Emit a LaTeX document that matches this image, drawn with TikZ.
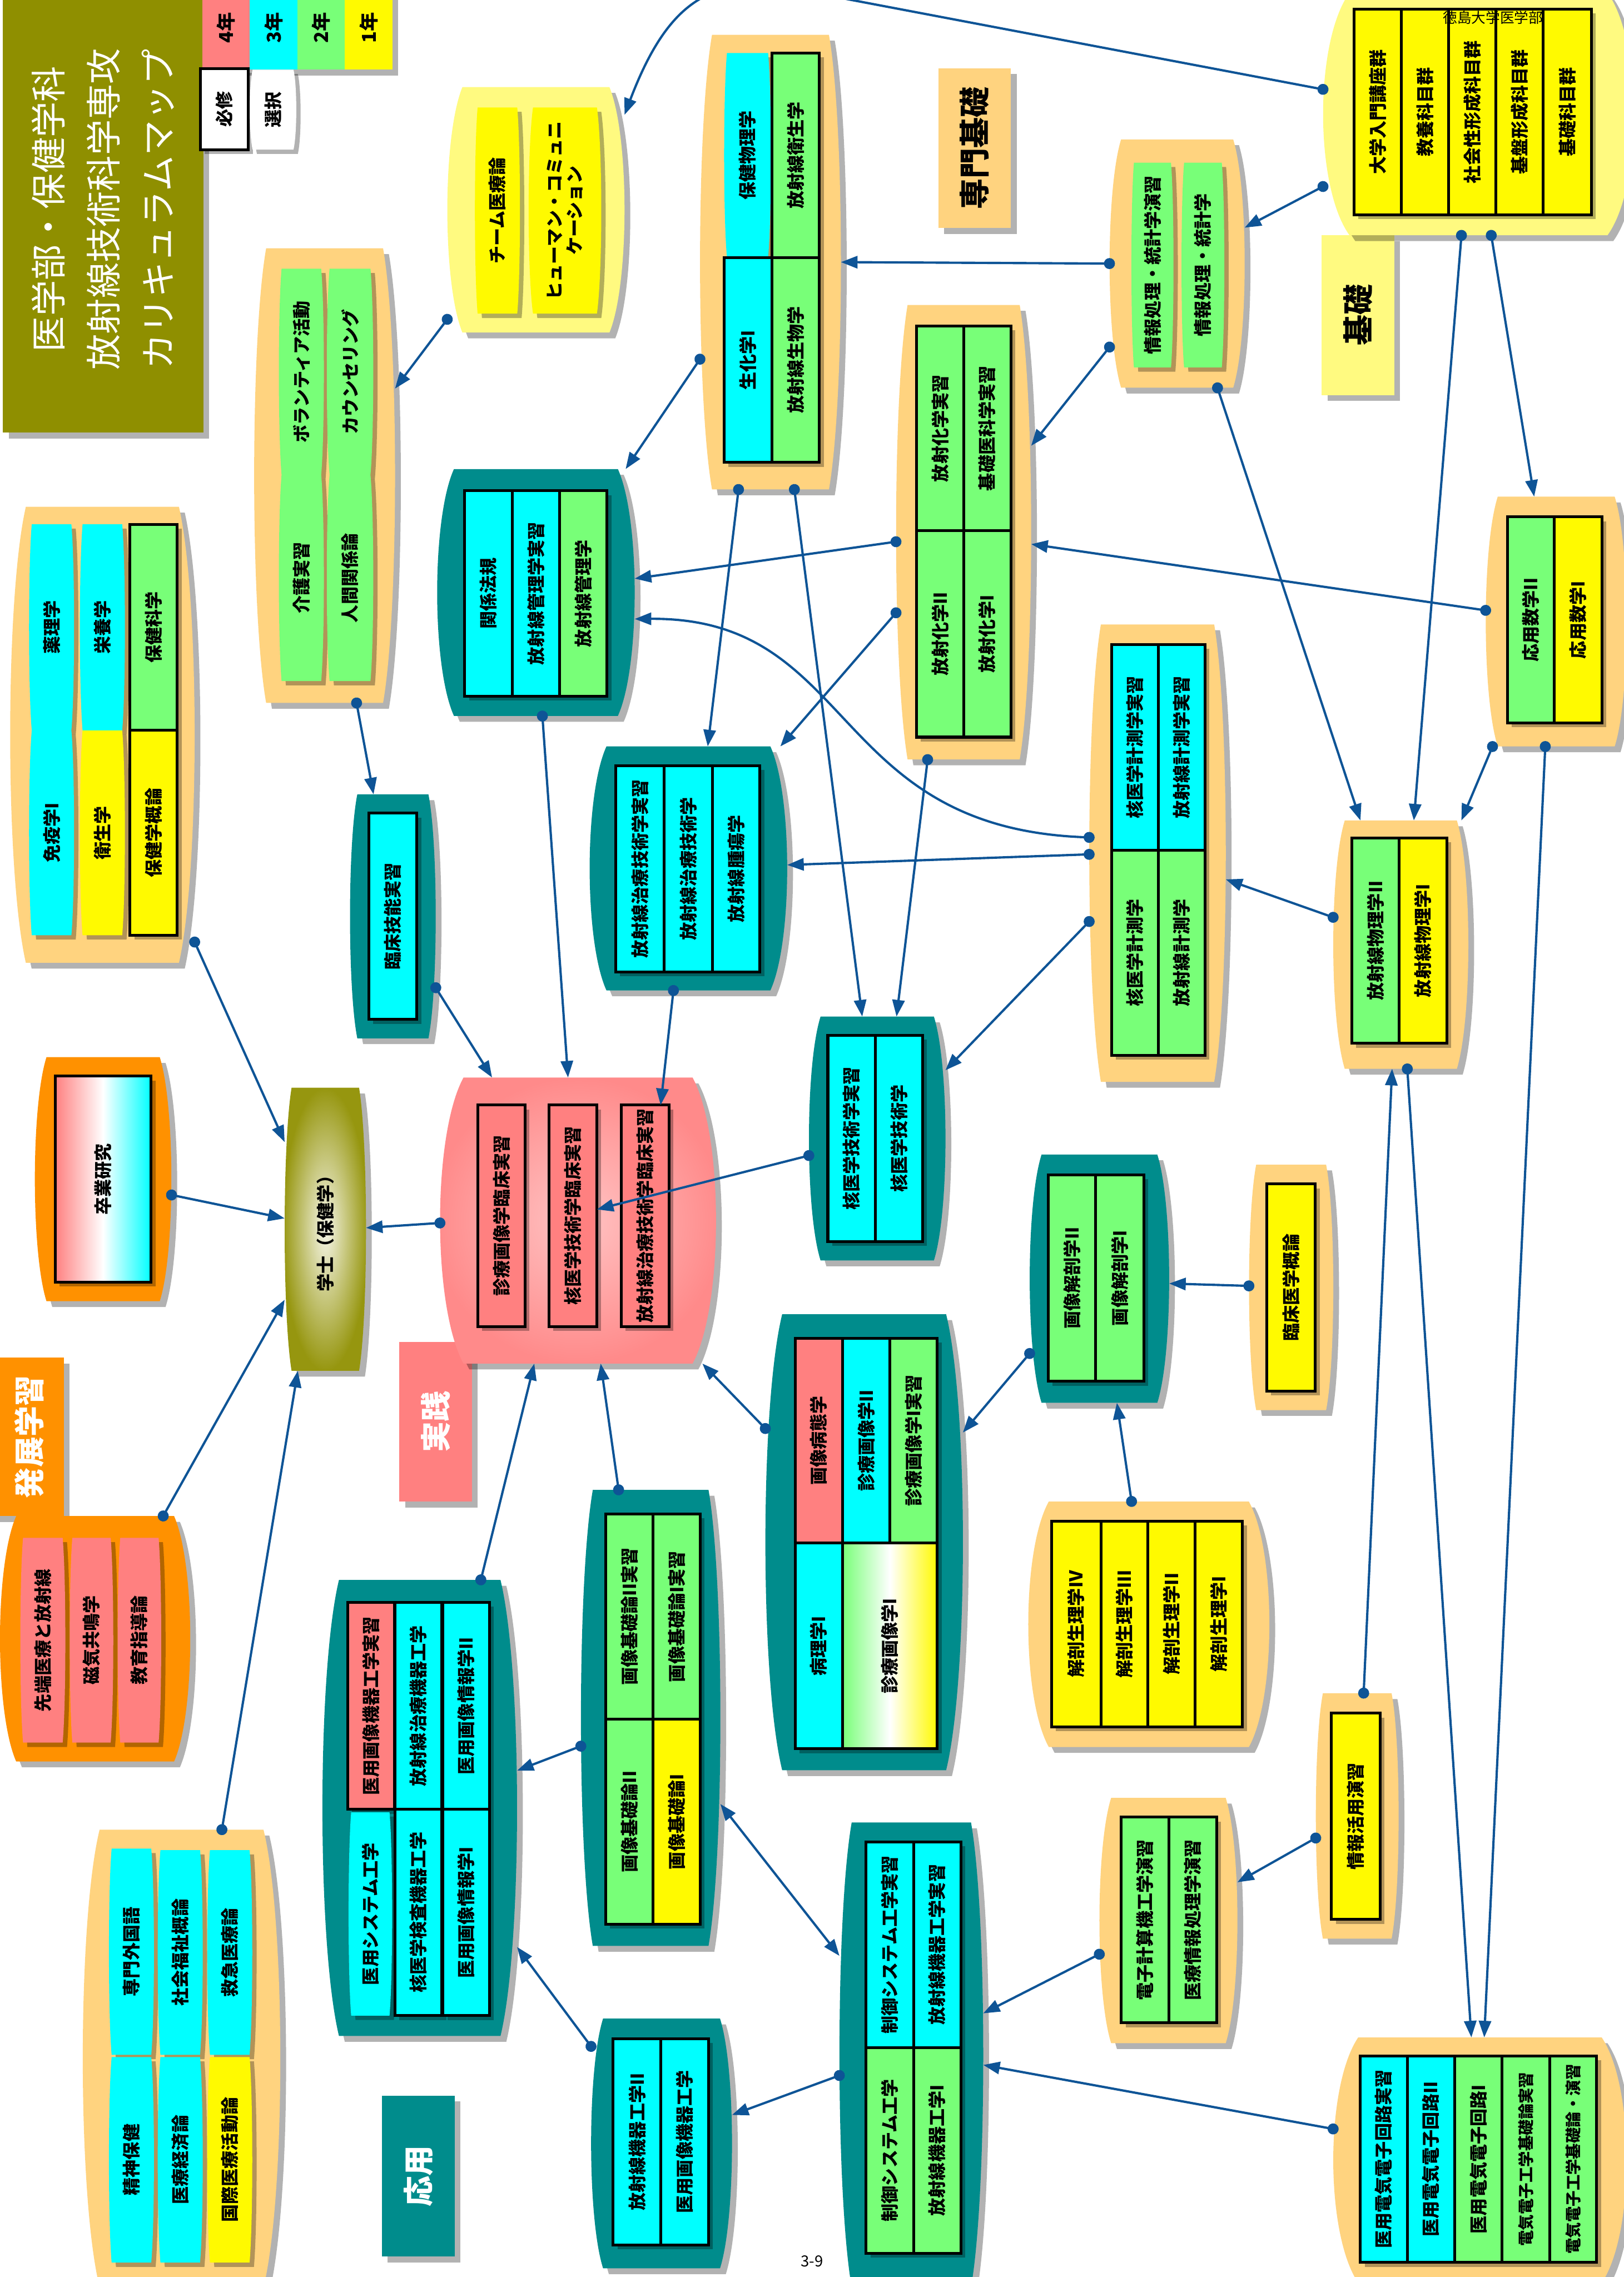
\documentclass[tikz,border=0pt]{standalone}
\usepackage{fontspec}
\setmainfont{Noto Sans CJK JP}
\usetikzlibrary{arrows.meta}

\definecolor{olv}{RGB}{143,143,0}
\definecolor{sal}{RGB}{255,128,128}
\definecolor{cyn}{RGB}{0,255,255}
\definecolor{grn}{RGB}{120,255,120}
\definecolor{yel}{RGB}{255,250,0}
\definecolor{ltorg}{RGB}{255,211,127}
\definecolor{ltyel}{RGB}{255,250,128}
\definecolor{org}{RGB}{255,145,0}
\definecolor{tea}{RGB}{0,140,140}
\definecolor{arr}{RGB}{14,84,150}
\definecolor{prin}{RGB}{255,196,196}
\definecolor{prout}{RGB}{255,138,138}
\definecolor{bain}{RGB}{246,246,232}
\definecolor{baout}{RGB}{150,150,15}

\newcommand{\cellfont}{\fontsize{7}{8}\selectfont\bfseries}
\newcommand{\lblfont}{\fontsize{12}{14}\selectfont\bfseries}

% barrel outline: x1,y1,x2,y2,bulge,options
\newcommand{\barrel}[6]{%
  \pgfmathsetmacro{\brlb}{#5*(#3-#1)}%
  \pgfmathsetmacro{\brlh}{0.2*(#4-#2)}%
  \path[#6] ({#1+\brlb},#2) -- ({#3-\brlb},#2)
    .. controls ({#3+\brlb/3},{#2+\brlh}) and ({#3+\brlb/3},{#4-\brlh}) .. ({#3-\brlb},#4)
    -- ({#1+\brlb},#4)
    .. controls ({#1-\brlb/3},{#4-\brlh}) and ({#1-\brlb/3},{#2+\brlh}) .. cycle;}
% group: name,x1,y1,x2,y2,fill
\newcommand{\grp}[6]{%
  \begin{scope}[shift={(4,4)}]\barrel{#2}{#3}{#4}{#5}{0.085}{shadowfill}\end{scope}
  \barrel{#2}{#3}{#4}{#5}{0.085}{#6}
  \node[anchorbox,minimum width={(#4-#2)*0.02cm},minimum height={(#5-#3)*0.02cm}]
    (#1) at ({(#2+#4)/2},{(#3+#5)/2}) {};}
% required subject: framed box
\newcommand{\rcell}[7]{%
  \fill[shadowfill] ({#2+3},{#3+3}) rectangle ({#4+3},{#5+3});
  \node[rbox,#6,minimum width={(#5-#3)*0.02cm},minimum height={(#4-#2)*0.02cm}]
    (#1) at ({(#2+#4)/2},{(#3+#5)/2}) {#7};}
% elective subject: barrel, no frame
\newcommand{\ecell}[7]{%
  \begin{scope}[shift={(3,3)}]\barrel{#2}{#3}{#4}{#5}{0.06}{shadowfill}\end{scope}
  \barrel{#2}{#3}{#4}{#5}{0.06}{#6}
  \node[ebox,minimum width={(#5-#3)*0.02cm},minimum height={(#4-#2)*0.02cm}]
    (#1) at ({(#2+#4)/2},{(#3+#5)/2}) {#7};}

\begin{document}
\begin{tikzpicture}[x=0.02cm,y=-0.02cm,
  shadowfill/.style={fill=black,opacity=.3},
  anchorbox/.style={rectangle,inner sep=0,outer sep=0},
  rbox/.style={rectangle,draw,line width=1.1pt,rotate=90,inner sep=0,outer sep=0,align=center,font=\cellfont},
  ebox/.style={rectangle,rotate=90,inner sep=0,outer sep=0,align=center,font=\cellfont},
  legbox/.style={rectangle,rotate=90,inner sep=0,outer sep=0,font=\fontsize{7.5}{9}\selectfont\bfseries},
  lbl/.style={rectangle,rotate=90,inner sep=0,font=\lblfont},
  conn/.style={draw=arr,line width=0.9pt,{Circle[length=4.3pt]}-{Triangle[length=6.5pt,width=4.8pt]},shorten <=-2.1pt},
  dbl/.style={draw=arr,line width=0.9pt,{Triangle[length=6.5pt,width=4.8pt]}-{Triangle[length=6.5pt,width=4.8pt]}}]
\useasboundingbox (0,0) rectangle (1118,1568);

% ---------- title and legend ----------
\fill[shadowfill] (6,-6) rectangle (144,302);
\node[rectangle,fill=olv,rotate=90,text=white,align=center,inner sep=0,
  font=\fontsize{14}{21.5}\selectfont,minimum width=308*0.02cm,minimum height=138*0.02cm]
  (title) at (71,144) {医学部・保健学科\\放射線技術科学専攻\\カリキュラムマップ};
\fill[shadowfill] (144,-6) rectangle (274,52);
\foreach \n/\fc/\lab [count=\i from 0] in {leg4/sal/4年,leg3/cyn/3年,leg2/grn/2年,leg1/yel/1年}
  \node[legbox,fill=\fc,minimum width=58*0.02cm,minimum height=32.7*0.02cm]
    (\n) at ({155.7+\i*32.7},19) {\lab};
\rcell{legReq}{138}{47.3}{171}{103.2}{fill=white}{必修}
\ecell{legOpt}{172}{48}{204}{103}{fill=white}{選択}

% ---------- area labels ----------
\foreach \n/\xa/\ya/\xb/\yb/\fc/\tcol/\lab in {lSenmon/646/47/696/157/ltorg/black/専門基礎,
    lKiso/910/162/960/272/ltyel/black/基礎, lJissen/275/924/325/1034/sal/white/実践,
    lHatten/-4/935/44/1044/org/white/発展学習, lOyo/263/1443/313/1554/tea/white/応用}{
  \fill[shadowfill] ({\xa+4},{\ya+4}) rectangle ({\xb+4},{\yb+4});
  \node[lbl,fill=\fc,text=\tcol,minimum width={(\yb-\ya)*0.02cm},minimum height={(\xb-\xa)*0.02cm}]
    (\n) at ({(\xa+\xb)/2},{(\ya+\yb)/2}) {\lab};}

% ---------- basic ----------
\grp{gUniv}{911}{-5}{1125}{162}{fill=ltyel}
\rcell{cUniv1}{932.3}{6.3}{964.8}{148}{fill=yel}{大学入門講座群}
\rcell{cUniv2}{964.8}{6.3}{997.5}{148}{fill=yel}{教養科目群}
\rcell{cUniv3}{997.5}{6.3}{1030}{148}{fill=yel}{社会性形成科目群}
\rcell{cUniv4}{1030}{6.3}{1062.6}{148}{fill=yel}{基盤形成科目群}
\rcell{cUniv5}{1062.6}{6.3}{1095.8}{148}{fill=yel}{基礎科目群}

\grp{gInfo}{764}{96}{857}{267}{fill=ltorg}
\ecell{cInfo1}{779}{112}{808}{253}{fill=grn}{情報処理・統計学演習}
\ecell{cInfo2}{813.5}{112}{843}{253}{fill=grn}{情報処理・統計学}

\grp{gMath}{1023}{342}{1120}{514}{fill=ltorg}
\rcell{cMath1}{1037.8}{356}{1070.2}{497.8}{fill=grn}{応用数学II}
\rcell{cMath2}{1070.2}{356}{1103}{497.8}{fill=yel}{応用数学I}

\grp{gTeam}{308}{60}{430}{229}{fill=ltyel}
\ecell{cTeam1}{327}{74}{358}{216}{fill=yel}{チーム医療論}
\ecell{cTeam2}{364}{74}{414}{216}{fill=yel}{ヒューマン・コミュニ\\ケーション}

\grp{gVol}{175}{171}{272}{484}{fill=ltorg}
\ecell{cVol1}{192}{185}{223}{327}{fill=grn}{ボランティア活動}
\ecell{cVol2}{225}{185}{257}{327}{fill=grn}{カウンセリング}
\ecell{cVol3}{192}{327}{223}{469}{fill=grn}{介護実習}
\ecell{cVol4}{225}{327}{257}{469}{fill=grn}{人間関係論}

\grp{gImm}{7}{349}{134}{663}{fill=ltorg}
\ecell{cImm1}{20}{361}{51}{503}{fill=cyn}{薬理学}
\ecell{cImm2}{20}{503}{51}{644}{fill=cyn}{免疫学I}
\ecell{cImm3}{55}{361}{86}{503}{fill=cyn}{栄養学}
\ecell{cImm4}{55}{503}{86}{644}{fill=yel}{衛生学}
\rcell{cImm5}{89.5}{361}{122}{503}{fill=grn}{保健科学}
\rcell{cImm6}{89.5}{503}{122}{644}{fill=yel}{保健学概論}

% ---------- specialised basics ----------
\grp{gHP}{482}{24}{579}{337}{fill=ltorg}
\ecell{cHP1}{498.6}{36.5}{530.8}{177.4}{fill=cyn}{保健物理学}
\rcell{cHP2}{531.5}{36.5}{564.2}{177.4}{fill=grn}{放射線衛生学}
\rcell{cHP3}{498.6}{177.4}{531.5}{318.4}{fill=cyn}{生化学I}
\rcell{cHP4}{531.5}{177.4}{564.2}{318.4}{fill=grn}{放射線生物学}

\grp{gChem}{617}{210}{710}{523}{fill=ltorg}
\rcell{cChem1}{631}{224.5}{663.5}{365.5}{fill=grn}{放射化学実習}
\rcell{cChem2}{663.5}{224.5}{696}{365.5}{fill=grn}{基礎医科学実習}
\rcell{cChem3}{631}{365.5}{663.5}{507.6}{fill=grn}{放射化学II}
\rcell{cChem4}{663.5}{365.5}{696}{507.6}{fill=grn}{放射化学I}

\grp{gNucM}{750}{430}{844}{745}{fill=ltorg}
\rcell{cNucM1}{765.3}{443.7}{797.5}{585.6}{fill=cyn}{核医学計測学実習}
\rcell{cNucM2}{797.5}{443.7}{829.7}{585.6}{fill=cyn}{放射線計測学実習}
\rcell{cNucM3}{765.3}{585.6}{797.5}{726.6}{fill=grn}{核医学計測学}
\rcell{cNucM4}{797.5}{585.6}{829.7}{726.6}{fill=grn}{放射線計測学}

\grp{gPhys}{918}{565}{1011}{736}{fill=ltorg}
\rcell{cPhys1}{930.7}{577}{963.4}{718.5}{fill=grn}{放射線物理学II}
\rcell{cPhys2}{963.4}{577}{996.3}{718.5}{fill=yel}{放射線物理学I}

\grp{gLaw}{301}{323}{437}{493}{fill=tea}
\rcell{cLaw1}{320}{338}{352.7}{479.4}{fill=cyn}{関係法規}
\rcell{cLaw2}{352.7}{338}{385.4}{479.4}{fill=cyn}{放射線管理学実習}
\rcell{cLaw3}{385.4}{338}{418}{479.4}{fill=grn}{放射線管理学}

\grp{gSkill}{241}{547}{300}{715}{fill=tea}
\rcell{cSkill}{254}{560}{287}{702}{fill=cyn}{臨床技能実習}

\grp{gRT}{406}{514}{542}{682}{fill=tea}
\rcell{cRT1}{424}{527.2}{457.3}{669.4}{fill=cyn}{放射線治療技術学実習}
\rcell{cRT2}{457.3}{527.2}{490.5}{669.4}{fill=cyn}{放射線治療技術学}
\rcell{cRT3}{490.5}{527.2}{523.2}{669.4}{fill=cyn}{放射線腫瘍学}

\grp{gNucT}{557}{700}{651}{868}{fill=tea}
\rcell{cNucT1}{570}{713}{602.7}{855}{fill=cyn}{核医学技術学実習}
\rcell{cNucT2}{602.7}{713}{635.3}{855}{fill=cyn}{核医学技術学}

\grp{gAnat}{709}{795}{805}{966}{fill=tea}
\rcell{cAnat1}{721.7}{809}{754.5}{951.2}{fill=grn}{画像解剖学II}
\rcell{cAnat2}{754.5}{809}{787.5}{951.2}{fill=grn}{画像解剖学I}

\grp{gClin}{860}{802}{918}{971}{fill=ltorg}
\rcell{cClin}{872.2}{815.3}{905.6}{958}{fill=yel}{臨床医学概論}

\grp{gAP}{708}{1034}{874}{1203}{fill=ltorg}
\rcell{cAP1}{724}{1047.4}{758}{1189.2}{fill=yel}{解剖生理学IV}
\rcell{cAP2}{758}{1047.4}{790.3}{1189.2}{fill=yel}{解剖生理学III}
\rcell{cAP3}{790.3}{1047.4}{823}{1189.2}{fill=yel}{解剖生理学II}
\rcell{cAP4}{823}{1047.4}{855.5}{1189.2}{fill=yel}{解剖生理学I}

\grp{gIT}{906}{1166}{963}{1335}{fill=ltorg}
\rcell{cIT}{916.8}{1179.8}{950.2}{1321.8}{fill=yel}{情報活用演習}

\grp{gComp}{757}{1238}{852}{1407}{fill=ltorg}
\rcell{cComp1}{772}{1251.3}{804.7}{1393}{fill=grn}{電子計算機工学演習}
\rcell{cComp2}{804.7}{1251.3}{837.6}{1393}{fill=grn}{医療情報処理学演習}

\grp{gElec}{918}{1403}{1120}{1572}{fill=ltorg}
\rcell{cElec1}{936.6}{1415.7}{969}{1558}{fill=cyn}{医用電気電子回路実習}
\rcell{cElec2}{969}{1415.7}{1001.6}{1558}{fill=cyn}{医用電気電子回路II}
\rcell{cElec3}{1001.6}{1415.7}{1034.3}{1558}{fill=grn}{医用電気電子回路I}
\rcell{cElec4}{1034.3}{1415.7}{1067}{1558}{fill=grn}{\fontsize{6.2}{7}\selectfont 電気電子工学基礎論実習}
\rcell{cElec5}{1067}{1415.7}{1099.4}{1558}{fill=grn}{\fontsize{6.2}{7}\selectfont 電気電子工学基礎論・演習}

% ---------- applied ----------
\grp{gPath}{527}{905}{663}{1219}{fill=tea}
\rcell{cPath1}{547.5}{921.5}{580}{1062.5}{fill=sal}{画像病態学}
\rcell{cPath2}{580}{921.5}{612.7}{1062.5}{fill=cyn}{診療画像学II}
\rcell{cPath3}{612.7}{921.5}{645.4}{1062.5}{fill=grn}{診療画像学I実習}
\rcell{cPath4}{547.5}{1062.5}{580}{1204.3}{fill=cyn}{病理学I}
\rcell{cPath5}{580}{1062.5}{645.4}{1204.3}{left color=grn,right color=yel,middle color=white}{診療画像学I}

\grp{gImgB}{400}{1026}{496}{1340}{fill=tea}
\rcell{cImgB1}{417}{1042.4}{449.7}{1184}{fill=grn}{画像基礎論II実習}
\rcell{cImgB2}{449.7}{1042.4}{482}{1184}{fill=grn}{画像基礎論I実習}
\rcell{cImgB3}{417}{1184}{449.7}{1325}{fill=grn}{画像基礎論II}
\rcell{cImgB4}{449.7}{1184}{482}{1325}{fill=yel}{画像基礎論I}

\grp{gSys}{222}{1088}{356}{1402}{fill=tea}
\rcell{cSys1}{239.4}{1103.5}{271.6}{1246}{fill=sal}{医用画像機器工学実習}
\rcell{cSys2}{272}{1103.5}{304.3}{1246}{fill=cyn}{放射線治療機器工学}
\rcell{cSys3}{305}{1103.5}{337}{1246}{fill=cyn}{医用画像情報学II}
\ecell{cSys4}{240}{1248}{270}{1388}{fill=cyn}{医用システム工学}
\rcell{cSys5}{272}{1246}{304.3}{1388}{fill=cyn}{核医学検査機器工学}
\rcell{cSys6}{305}{1246}{337}{1388}{fill=cyn}{医用画像情報学I}

\grp{gCtl}{578}{1255}{677}{1575}{fill=tea}
\rcell{cCtl1}{596.4}{1268.4}{629}{1410}{fill=cyn}{制御システム工学実習}
\rcell{cCtl2}{629}{1268.4}{661.6}{1410}{fill=cyn}{放射線機器工学実習}
\rcell{cCtl3}{596.4}{1410}{629}{1551.6}{fill=grn}{制御システム工学}
\rcell{cCtl4}{629}{1410}{661.6}{1551.6}{fill=grn}{放射線機器工学I}

\grp{gMach}{407}{1390}{504}{1562}{fill=tea}
\rcell{cMach1}{422.2}{1404}{455}{1545.8}{fill=cyn}{放射線機器工学II}
\rcell{cMach2}{455}{1404}{487.8}{1545.8}{fill=cyn}{医用画像機器工学}

% ---------- practice ----------
\grp{gPrac}{303}{742}{493}{939}{inner color=prin,outer color=prout}
\rcell{cPrac1}{329}{761}{361.6}{913.5}{fill=sal}{診療画像学臨床実習}
\rcell{cPrac2}{378}{761}{411}{913.5}{fill=sal}{核医学技術学臨床実習}
\rcell{cPrac3}{427.7}{761}{460.6}{913.5}{fill=sal}{放射線治療技術学臨床実習}

% ---------- advanced, thesis, degree ----------
\grp{gThesis}{24}{728}{118}{896}{fill=org}
\rcell{cThesis}{38}{741}{104}{883}{left color=sal,right color=cyn,middle color=white}{卒業研究}

\grp{gAdv}{0}{1044}{131}{1213}{fill=org}
\ecell{cAdv1}{14}{1059}{45}{1200}{fill=sal}{先端医療と放射線}
\ecell{cAdv2}{48}{1059}{78}{1200}{fill=sal}{磁気共鳴学}
\ecell{cAdv3}{81}{1059}{111}{1200}{fill=sal}{教育指導論}

\grp{gLang}{57}{1260}{193}{1575}{fill=ltorg}
\ecell{cLang1}{75}{1273}{106}{1415}{fill=cyn}{専門外国語}
\ecell{cLang2}{75}{1416.5}{106}{1558}{fill=cyn}{精神保健}
\ecell{cLang3}{108.6}{1274}{139.6}{1415}{fill=cyn}{社会福祉概論}
\ecell{cLang4}{108.6}{1416.5}{139.6}{1558}{fill=cyn}{医療経済論}
\ecell{cLang5}{142.7}{1274}{173.7}{1415}{fill=cyn}{救急医療論}
\ecell{cLang6}{142.7}{1416.5}{173.7}{1558}{fill=yel}{国際医療活動論}

\grp{gBach}{196}{749}{252}{944}{inner color=bain,outer color=baout}
\node[ebox] (tBach) at (gBach) {学士（保健学）};

% ---------- connectors ----------
\draw[conn] (gTeam.231.6) -- (gVol.51.2);
\draw[conn] (gVol.278.9) -- (gSkill.99.2);
\draw[conn] (gUniv.171) -- (560,-5) .. controls (495,-20) and (462,-5) .. (gTeam.47.2);
\draw[conn] (gUniv.205.8) -- (gInfo.28);
\draw[conn] (gUniv.262.4) -- (gPhys.84.7);
\draw[conn] (gUniv.276.3) -- (gMath.100.5);
\draw[conn] (gInfo.180) -- (gHP.0);
\draw[conn] (gInfo.231.4) -- (gChem.52);
\draw[conn] (gInfo.288.6) -- (gPhys.108.2);
\draw[conn] (gMath.171.7) -- (gChem.350);
\draw[conn] (gMath.243.6) -- (gPhys.64.6);
\draw[conn] (gMath.265.8) -- (gElec.88.6);
\draw[conn] (gPhys.273.6) -- (gElec.94.9);
\draw[conn] (gIT.87.5) -- (gPhys.266.9);
\draw[conn] (gPhys.158.6) -- (gNucM.339);
\draw[conn] (gNucM.167.2) .. controls (570,570) and (590,425) .. (gLaw.345.2);
\draw[conn] (gNucM.181.6) -- (gRT.2.3);
\draw[conn] (gNucM.225.8) -- (gNucT.45.4);
\draw[conn] (gHP.234.7) -- (gLaw.54.2);
\draw[conn] (gHP.262.3) -- (gRT.81.8);
\draw[conn] (gHP.276.9) -- (gNucT.97.1);
\draw[conn] (gChem.188.7) -- (gLaw.8.5);
\draw[conn] (gChem.230.8) -- (gRT.53.6);
\draw[conn] (gChem.261.9) -- (gNucT.81.6);
\draw[conn] (gLaw.273.5) -- (gPrac.94.6);
\draw[conn] (gRT.263.2) -- (cPrac3.352.6);
\draw[conn] (gSkill.301.1) -- (gPrac.121.8);
\draw[conn] (gNucT.194.3) -- (cPrac2.285.1);
\draw[conn] (gImm.294.4) -- (gBach.115);
\draw[conn] (gThesis.347.4) -- (gBach.165.4);
\draw[conn] (gPrac.181.7) -- (gBach.2.8);
\draw[conn] (gAdv.61.6) -- (gBach.240.1);
\draw[conn] (gLang.80.4) -- (gBach.259.2);
\draw[conn] (gSys.75.3) -- (gPrac.253.6);
\draw[conn] (gImgB.98.1) -- (gPrac.279.1);
\draw[conn] (gPath.131.5) -- (gPrac.311.4);
\draw[conn] (gAnat.227.8) -- (gPath.48.4);
\draw[conn] (gClin.178) -- (gAnat.356.7);
\draw[conn] (gAP.98.8) -- (gAnat.278.2);
\draw[dbl] (gImgB.309) -- (gCtl.126.6);
\draw[conn] (gImgB.202.1) -- (gSys.21.3);
\draw[conn] (gMach.126.2) -- (gSys.305.3);
\draw[conn] (gCtl.196.7) -- (gMach.22.2);
\draw[conn] (gComp.206.7) -- (gCtl.30.5);
\draw[conn] (gElec.168.9) -- (gCtl.352);
\draw[conn] (gIT.208.3) -- (gComp.29.1);

% ---------- page marks ----------
\node[font=\fontsize{5.6}{6}\selectfont,inner sep=0] (pgHead) at (1028,12) {徳島大学医学部};
\node[font=\fontsize{6}{7}\selectfont,inner sep=0] (pgNum) at (559,1557) {3-9};
\end{tikzpicture}
\end{document}
